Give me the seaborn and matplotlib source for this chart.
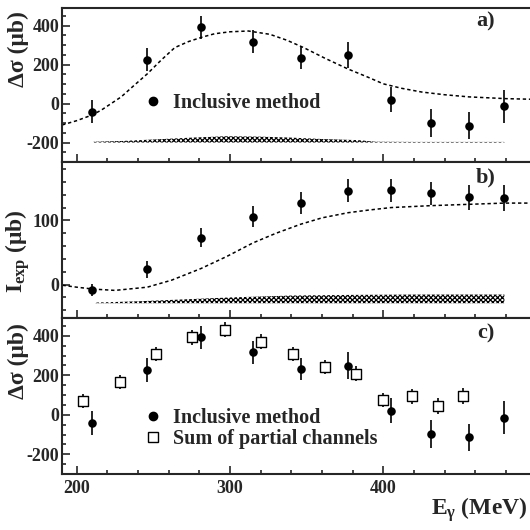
import numpy as np
import pandas as pd
import matplotlib
matplotlib.use('Agg')
import matplotlib.pyplot as plt
import seaborn as sns
from matplotlib.ticker import MultipleLocator
from matplotlib.lines import Line2D

## data
inc_E = [210, 246, 281, 315, 346, 377, 405, 431, 456, 479]
dsig_inc = [-42, 225, 392, 316, 232, 248, 20, -98, -113, -14]
dsig_inc_err = [60, 60, 59, 59, 57, 68, 63, 72, 68, 85]
iexp = [-8, 24, 73, 106, 127, 146, 147, 142, 136, 135]
iexp_err = [9, 13, 15, 16, 17, 18, 18, 18, 19, 20]

sum_E = [204, 228, 252, 275, 297, 320, 341, 362, 382, 400, 419, 436, 452]
dsig_sum = [71, 167, 308, 392, 431, 370, 308, 242, 208, 76, 93, 46, 93]
dsig_sum_err = [36, 35, 37, 38, 38, 38, 37, 37, 37, 36, 38, 40, 40]

# model curves (dashed)
model_a_E = [190.5, 200, 210, 216, 229, 237, 246, 255, 264, 273, 282, 290, 300, 312,
             326, 337, 348, 362, 377, 390, 400, 412, 425, 440, 456, 480, 496]
model_a = [-110, -88, -59, -34, 34, 90, 152, 222, 287, 318, 341, 358, 368, 372,
           355, 325, 287, 232, 177, 135, 101, 78, 59, 45, 34, 25, 22]
model_b_E = [190.7, 200, 211, 225, 246, 262, 281, 298, 315, 330, 346, 360, 377, 390,
             405, 431, 455, 479, 496]
model_b = [-1, -4, -7, -9, -4, 7, 25, 44, 65, 80, 94, 104, 112, 116, 120, 123, 125, 127, 127]

# systematic error bands
band_a_E = [211, 230, 254, 275, 297, 320, 340, 360, 384, 395, 420, 450, 479]
band_a_h = [4, 8, 17, 25, 32, 30, 25, 18, 12, 4, 3, 3, 3]
band_a_base = -200
band_b_E = [212, 240, 270, 300, 340, 380, 420, 479]
band_b_top = [-28, -26, -23, -20, -17, -16, -15.5, -15.5]
band_b_base = -29

inc_df = pd.DataFrame({'E': inc_E, 'dsig': dsig_inc, 'dsig_err': dsig_inc_err,
                       'iexp': iexp, 'iexp_err': iexp_err})
sum_df = pd.DataFrame({'E': sum_E, 'dsig': dsig_sum, 'dsig_err': dsig_sum_err})
model_a_df = pd.DataFrame({'E': model_a_E, 'val': model_a})
model_b_df = pd.DataFrame({'E': model_b_E, 'val': model_b})

## style
sns.set_style('ticks')
plt.rcParams['font.family'] = ['Liberation Serif', 'DejaVu Serif']
plt.rcParams['font.weight'] = 'bold'
plt.rcParams['mathtext.fontset'] = 'custom'
plt.rcParams['mathtext.rm'] = 'Liberation Serif:bold'
plt.rcParams['mathtext.it'] = 'Liberation Serif:bold'
plt.rcParams['mathtext.bf'] = 'Liberation Serif:bold'
plt.rcParams['axes.unicode_minus'] = False
plt.rcParams['hatch.linewidth'] = 0.9
plt.rcParams['axes.linewidth'] = 1.5

XLIM = (190.4, 495.7)
L, R = 62 / 530, 1.0


def frac(px):
    return 1 - px / 530


fig = plt.figure(figsize=(5.3, 5.3), dpi=100)
ax_a = fig.add_axes([L, frac(162), R - L, frac(8) - frac(162)])
ax_b = fig.add_axes([L, frac(318), R - L, frac(162) - frac(318)])
ax_c = fig.add_axes([L, frac(474), R - L, frac(318) - frac(474)])

dash = (0, (2.2, 1.8))


def style_axis(ax, ylim, ymaj, ymin, labelbottom=False):
    ax.set_xlim(*XLIM)
    ax.set_ylim(*ylim)
    ax.xaxis.set_major_locator(MultipleLocator(100))
    ax.xaxis.set_minor_locator(MultipleLocator(20))
    ax.yaxis.set_major_locator(MultipleLocator(ymaj))
    ax.yaxis.set_minor_locator(MultipleLocator(ymin))
    ax.tick_params(which='both', direction='in', top=False, right=False, width=1.2,
                   labelsize=13, pad=2)
    ax.tick_params(which='major', length=6)
    ax.tick_params(which='minor', length=3)
    ax.tick_params(axis='x', labelbottom=labelbottom, pad=4)
    ax.spines['right'].set_visible(False)
    ax.set_xlabel('')
    ax.set_ylabel('')


def draw_inclusive(ax, ycol, ecol):
    ax.errorbar(inc_df['E'], inc_df[ycol], yerr=inc_df[ecol], fmt='none',
                ecolor='black', elinewidth=1.2, capsize=0, zorder=3)
    sns.scatterplot(data=inc_df, x='E', y=ycol, ax=ax, color='black', s=38,
                    marker='o', edgecolor='black', linewidth=0, zorder=4)


# panel a
draw_inclusive(ax_a, 'dsig', 'dsig_err')
sns.lineplot(data=model_a_df, x='E', y='val', ax=ax_a, color='black', lw=1.1,
             linestyle=dash, zorder=2)
ax_a.fill_between(band_a_E, band_a_base, np.array(band_a_h) + band_a_base,
                  facecolor='none', edgecolor='black', hatch='xxxxxxx', linewidth=0)
style_axis(ax_a, (-300, 490), 200, 50)
h_inc = Line2D([], [], marker='o', color='black', linestyle='none', markersize=6)
ax_a.legend([h_inc], ['Inclusive method'], loc='center left', frameon=False,
            bbox_to_anchor=(0.155, 0.38), fontsize=14.5, handlelength=1.0,
            handletextpad=0.5, borderaxespad=0)
ax_a.text(0.905, 0.915, 'a)', transform=ax_a.transAxes, ha='center', va='center', fontsize=16)

# panel b
draw_inclusive(ax_b, 'iexp', 'iexp_err')
sns.lineplot(data=model_b_df, x='E', y='val', ax=ax_b, color='black', lw=1.1,
             linestyle=dash, zorder=2)
ax_b.fill_between(band_b_E, band_b_base, band_b_top,
                  facecolor='none', edgecolor='black', hatch='xxxxxxx', linewidth=0)
style_axis(ax_b, (-52, 191), 100, 20)
ax_b.text(0.905, 0.9, 'b)', transform=ax_b.transAxes, ha='center', va='center', fontsize=16)

# panel c
ax_c.errorbar(sum_df['E'], sum_df['dsig'], yerr=sum_df['dsig_err'], fmt='none',
              ecolor='black', elinewidth=1.2, capsize=0, zorder=2)
sns.scatterplot(data=sum_df, x='E', y='dsig', ax=ax_c, marker='s', s=45,
                facecolor='white', edgecolor='black', linewidth=1.0, zorder=3)
draw_inclusive(ax_c, 'dsig', 'dsig_err')
style_axis(ax_c, (-300, 490), 200, 50, labelbottom=True)
h_sum = Line2D([], [], marker='s', markerfacecolor='white', markeredgecolor='black',
               linestyle='none', markersize=6.5)
ax_c.legend([h_inc, h_sum], ['Inclusive method', 'Sum of partial channels'],
            loc='upper left', frameon=False, bbox_to_anchor=(0.155, 0.475),
            fontsize=14.5, handlelength=1.0, handletextpad=0.5, borderaxespad=0,
            labelspacing=0.05)
ax_c.text(0.905, 0.9, 'c)', transform=ax_c.transAxes, ha='center', va='center', fontsize=16)

# axis titles
fig.text(0.034, frac(49), 'Δσ (μb)', rotation=90, ha='center', va='center', fontsize=17)
fig.text(0.034, frac(251), r'$I_{\rm exp}$ (μb)', rotation=90, ha='center', va='center',
         fontsize=17)
fig.text(0.034, frac(361), 'Δσ (μb)', rotation=90, ha='center', va='center', fontsize=17)
fig.text(0.995, frac(510), r'$E_{\gamma}$ (MeV)', ha='right', va='center', fontsize=17)

fig.savefig('out.png', dpi=100)
